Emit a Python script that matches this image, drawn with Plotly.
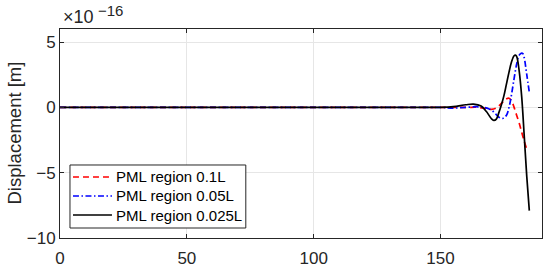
import plotly.graph_objects as go

x_01 = [0,20,40,60,80,100,120,140,150,160,165,168,170,172,174,175,176,177,178,179,180,181,182,183,184]
y_01 = [0,0,0,0,0,0,0,0,0,0,0,-0.1,-0.15,-0.05,0.3,0.5,0.65,0.7,0.5,0,-0.6,-1.2,-1.9,-2.6,-3.2]

x_005 = [0,20,40,60,80,100,120,140,150,155,160,164,167,169,171,173,174.5,176,177,178,179,180,181,182,182.5,183,184,185]
y_005 = [0,0,0,0,0,0,0,0,0,-0.05,0,0.05,0,-0.1,-0.35,-0.75,-0.85,-0.6,0,1.0,2.2,3.3,4.0,4.15,4.1,3.8,2.5,1.15]

x_0025 = [0,20,40,60,80,100,120,140,150,155,160,163,166,168,170,171,172,173,174,175,176,177,178,179,179.5,180,181,182,183,184,185]
y_0025 = [0,0,0,0,0,0,0,0,0,0.05,0.2,0.25,0.1,-0.3,-0.85,-1.0,-0.9,-0.4,0.2,0.9,1.8,2.7,3.5,3.95,4.0,3.9,2.8,0.8,-2.2,-5.3,-7.9]

names = ["PML region 0.1L", "PML region 0.05L", "PML region 0.025L"]
x_ticks = [0, 50, 100, 150]
y_ticks = [-10, -5, 0, 5]
y_tick_text = ["\u221210", "\u22125", "0", "5"]

FONT = "Liberation Sans, Arial, sans-serif"
TXT = "#262626"
colors = ["#ff0000", "#0000ff", "#000000"]
dashes = ["6px,4px", "6px,2.5px,1.5px,2.5px", "solid"]
series = [(x_01, y_01), (x_005, y_005), (x_0025, y_0025)]

fig = go.Figure()
for (xs, ys), nm, c, d in zip(series, names, colors, dashes):
    fig.add_trace(go.Scatter(x=xs, y=ys, mode="lines", name=nm, line_shape="spline",
                             line=dict(color=c, width=1.7, dash=d), showlegend=False))

axis_common = dict(showline=True, mirror="ticks", linecolor=TXT, linewidth=1,
                   ticks="inside", ticklen=4, tickcolor=TXT,
                   showgrid=True, gridcolor="#e6e6e6", gridwidth=1, zeroline=False,
                   automargin=False,
                   tickfont=dict(family=FONT, size=17, color=TXT))

fig.update_layout(
    width=550, height=269,
    margin=dict(l=60, r=7.5, t=29, b=31, pad=0),
    paper_bgcolor="white", plot_bgcolor="white",
    font=dict(family=FONT, color=TXT),
    showlegend=False,
    xaxis=dict(range=[0, 190], tickvals=x_ticks, ticklabelstandoff=5, **axis_common),
    yaxis=dict(range=[-10, 6], tickvals=y_ticks, ticktext=y_tick_text, **axis_common),
)

# y-axis title
fig.add_annotation(text="Displacement [m]", xref="paper", yref="paper",
                   x=0, y=0.5, xanchor="center", yanchor="middle", xshift=-46,
                   textangle=-90, showarrow=False,
                   font=dict(family=FONT, size=18.5, color=TXT))
# exponent label
fig.add_annotation(text="\u00d710", xref="paper", yref="paper",
                   x=0.004, y=1, xanchor="left", yanchor="bottom", xshift=-1, yshift=0,
                   showarrow=False, font=dict(family=FONT, size=18, color=TXT))
fig.add_annotation(text="\u221216", xref="paper", yref="paper",
                   x=0.0766, y=1, xanchor="left", yanchor="bottom", xshift=-1, yshift=8,
                   showarrow=False, font=dict(family=FONT, size=15, color=TXT))

# legend (drawn in paper coordinates of the plot area)
fig.add_shape(type="rect", xref="paper", yref="paper", x0=0.0207, x1=0.3855, y0=0.0478, y1=0.3493,
              line=dict(color=TXT, width=1), fillcolor="white", layer="above")
row_y = [0.2919, 0.201, 0.110]
for ry, nm, c, d in zip(row_y, names, colors, dashes):
    fig.add_shape(type="line", xref="paper", yref="paper", x0=0.0269, x1=0.1078, y0=ry, y1=ry,
                  line=dict(color=c, width=1.7, dash=d), layer="above")
    fig.add_annotation(text=nm, xref="paper", yref="paper", x=0.112, y=ry,
                       xanchor="left", yanchor="middle", showarrow=False,
                       font=dict(family=FONT, size=15, color="#000000"))

fig.write_html("out.html", config={"displayModeBar": False},
               post_script="document.body.style.margin='0px';")
